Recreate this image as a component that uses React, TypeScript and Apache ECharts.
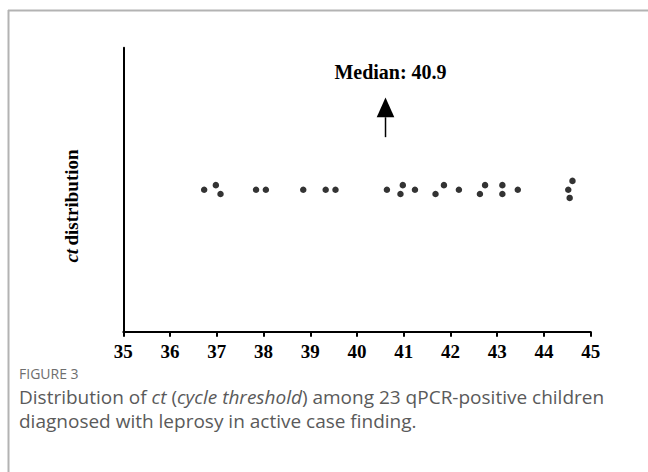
import React, { useEffect, useRef } from "react";
import * as echarts from "echarts";

// ct values (x) and jitter positions (y) of the 23 children
const ctValues = [
  36.73, 36.98, 37.08, 37.84, 38.05, 38.85, 39.33, 39.54, 40.64, 40.93, 40.98, 41.24,
  41.68, 41.86, 42.18, 42.63, 42.74, 43.11, 43.11, 43.44, 44.52, 44.61, 44.55,
];
const jitterValues = [
  0.5, 0.516, 0.485, 0.5, 0.5, 0.5, 0.5, 0.5, 0.5, 0.485, 0.516, 0.5,
  0.485, 0.516, 0.5, 0.485, 0.516, 0.516, 0.485, 0.5, 0.5, 0.531, 0.471,
];
const xTickMin = 35;
const xTickMax = 45;
const xTickStep = 1;
const medianLabel = "Median: 40.9";
const medianArrowX = 40.61;
const arrowTipY = 0.825;
const arrowBaseY = 0.755;
const arrowTailY = 0.685;
const labelY = 0.915;

const SERIF = '"Liberation Serif", "Times New Roman", serif';
const SANS = '"Open Sans", "Noto Sans", sans-serif';

export default function App() {
  const ref = useRef<HTMLDivElement>(null);

  useEffect(() => {
    document.body.style.margin = "0";
    const chart = echarts.init(ref.current!, null, { renderer: "svg" });
    const option: any = {
      animation: false,
      backgroundColor: "#ffffff",
      grid: { left: 123.3, right: 57.3, top: 47.7, bottom: 140.3, containLabel: false },
      xAxis: {
        type: "value",
        min: xTickMin,
        max: xTickMax,
        interval: xTickStep,
        axisLine: { show: true, onZero: false, lineStyle: { color: "#000", width: 2 } },
        axisTick: { show: true, length: 5, lineStyle: { color: "#000", width: 2 } },
        splitLine: { show: false },
        axisLabel: {
          color: "#000",
          fontFamily: SERIF,
          fontWeight: "bold",
          fontSize: 19,
          margin: 10,
        },
      },
      yAxis: {
        type: "value",
        min: 0,
        max: 1,
        axisLine: { show: true, lineStyle: { color: "#000", width: 2 } },
        axisTick: { show: false },
        axisLabel: { show: false },
        splitLine: { show: false },
      },
      series: [
        {
          type: "scatter",
          data: ctValues.map((v, i) => [v, jitterValues[i]]),
          symbol: "circle",
          symbolSize: 6.5,
          itemStyle: { color: "#000" },
        },
      ],
    };
    chart.setOption(option);

    const tip = chart.convertToPixel({ gridIndex: 0 }, [medianArrowX, arrowTipY]);
    const base = chart.convertToPixel({ gridIndex: 0 }, [medianArrowX, arrowBaseY]);
    const tail = chart.convertToPixel({ gridIndex: 0 }, [medianArrowX, arrowTailY]);
    const lab = chart.convertToPixel({ gridIndex: 0 }, [medianArrowX, labelY]);

    chart.setOption({
      graphic: [
        // figure frame
        { type: "line", shape: { x1: 8, y1: 10.5, x2: 648, y2: 10.5 }, style: { stroke: "#b3b3b3", lineWidth: 2 } },
        { type: "line", shape: { x1: 8.5, y1: 10, x2: 8.5, y2: 472 }, style: { stroke: "#b3b3b3", lineWidth: 2 } },
        // median arrow
        { type: "line", shape: { x1: base[0], y1: base[1], x2: tail[0], y2: tail[1] }, style: { stroke: "#000", lineWidth: 1.5 } },
        {
          type: "polygon",
          shape: { points: [[tip[0], tip[1]], [base[0] - 8.8, base[1]], [base[0] + 8.8, base[1]]] },
          style: { fill: "#000" },
        },
        {
          type: "text",
          x: lab[0] + 5,
          y: lab[1],
          style: {
            text: medianLabel,
            font: `bold 20px ${SERIF}`,
            fill: "#000",
            align: "center",
            verticalAlign: "middle",
          },
        },
        // y axis title
        {
          type: "text",
          x: 71.7,
          y: 206,
          rotation: Math.PI / 2,
          style: {
            text: "{i|ct} {b|distribution}",
            align: "center",
            verticalAlign: "middle",
            rich: {
              i: { font: `italic bold 19px ${SERIF}`, fill: "#000" },
              b: { font: `bold 19px ${SERIF}`, fill: "#000" },
            },
          },
        },
        // caption
        {
          type: "text",
          x: 19,
          y: 373,
          style: { text: "FIGURE 3", font: `14px ${SANS}`, fill: "#6e6e6e", verticalAlign: "middle" },
        },
        {
          type: "text",
          x: 19,
          y: 397,
          style: {
            text: "{n|Distribution of }{it|ct}{n| (}{it|cycle threshold}{n|) among 23 qPCR-positive children}",
            verticalAlign: "middle",
            rich: {
              n: { font: `19px ${SANS}`, fill: "#5a5a5a" },
              it: { font: `italic 19px ${SANS}`, fill: "#5a5a5a" },
            },
          },
        },
        {
          type: "text",
          x: 19,
          y: 421,
          style: {
            text: "diagnosed with leprosy in active case finding.",
            font: `19px ${SANS}`,
            fill: "#5a5a5a",
            verticalAlign: "middle",
          },
        },
      ],
    });

    return () => chart.dispose();
  }, []);

  return <div ref={ref} style={{ width: 648, height: 472 }} />;
}
